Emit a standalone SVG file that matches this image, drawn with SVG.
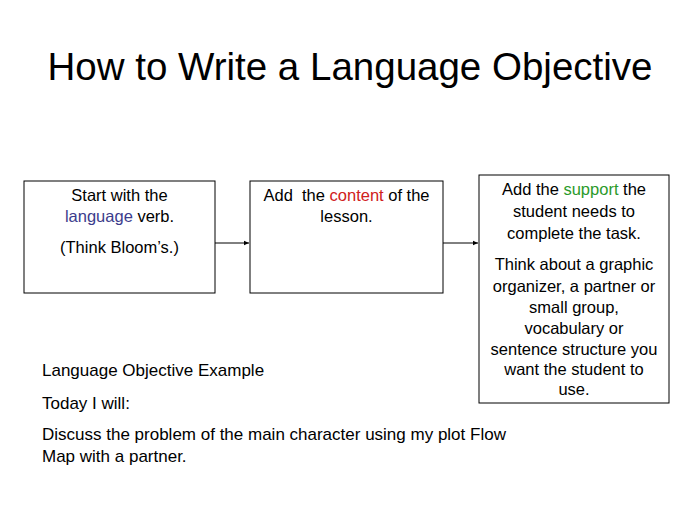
<svg xmlns="http://www.w3.org/2000/svg" width="700" height="526" viewBox="0 0 700 526">
<style>
text{font-family:"Liberation Sans",Arial,sans-serif;fill:#000}
.b{fill:#fff;stroke:#000;stroke-width:1}
.t{font-size:16.5px;text-anchor:middle}
.p{font-size:17px}
.c{stroke:#000;stroke-width:1;fill:none}
</style>
<defs><marker id="a" markerWidth="6" markerHeight="6" refX="5" refY="3" orient="auto"><path d="M0,0.8 L5,3 L0,5.2z" fill="#000"/></marker></defs>
<rect width="700" height="526" fill="#fff"/>
<text x="350" y="80" font-size="38.5" text-anchor="middle">How to Write a Language Objective</text>
<g id="connectors">
<line class="c" x1="215" y1="243" x2="249" y2="243" marker-end="url(#a)"/>
<line class="c" x1="443" y1="243" x2="478" y2="243" marker-end="url(#a)"/>
</g>
<g id="n1"><rect class="b" x="24" y="181" width="191" height="112"/>
<text class="t" x="119.5" y="201">Start with the</text>
<text class="t" x="119.5" y="222"><tspan fill="#3c3c8c">language</tspan> verb.</text>
<text class="t" x="119.5" y="253">(Think Bloom’s.)</text></g>
<g id="n2"><rect class="b" x="250" y="181" width="193" height="112"/>
<text class="t" x="346.5" y="201" xml:space="preserve">Add  the <tspan fill="#d02020">content</tspan> of the</text>
<text class="t" x="346.5" y="222">lesson.</text></g>
<g id="n3"><rect class="b" x="479" y="175" width="190" height="228"/>
<text class="t" x="574" y="195">Add the <tspan fill="#2a9a2a">support</tspan> the</text>
<text class="t" x="574" y="217">student needs to</text>
<text class="t" x="574" y="239">complete the task.</text>
<text class="t" x="574" y="270">Think about a graphic</text>
<text class="t" x="574" y="292">organizer, a partner or</text>
<text class="t" x="574" y="313">small group,</text>
<text class="t" x="574" y="334">vocabulary or</text>
<text class="t" x="574" y="355">sentence structure you</text>
<text class="t" x="574" y="375">want the student to</text>
<text class="t" x="574" y="395">use.</text></g>
<g id="example">
<text class="p" x="42" y="376">Language Objective Example</text>
<text class="p" x="42" y="409">Today I will:</text>
<text class="p" x="42" y="440">Discuss the problem of the main character using my plot Flow</text>
<text class="p" x="42" y="462">Map with a partner.</text></g>
</svg>
